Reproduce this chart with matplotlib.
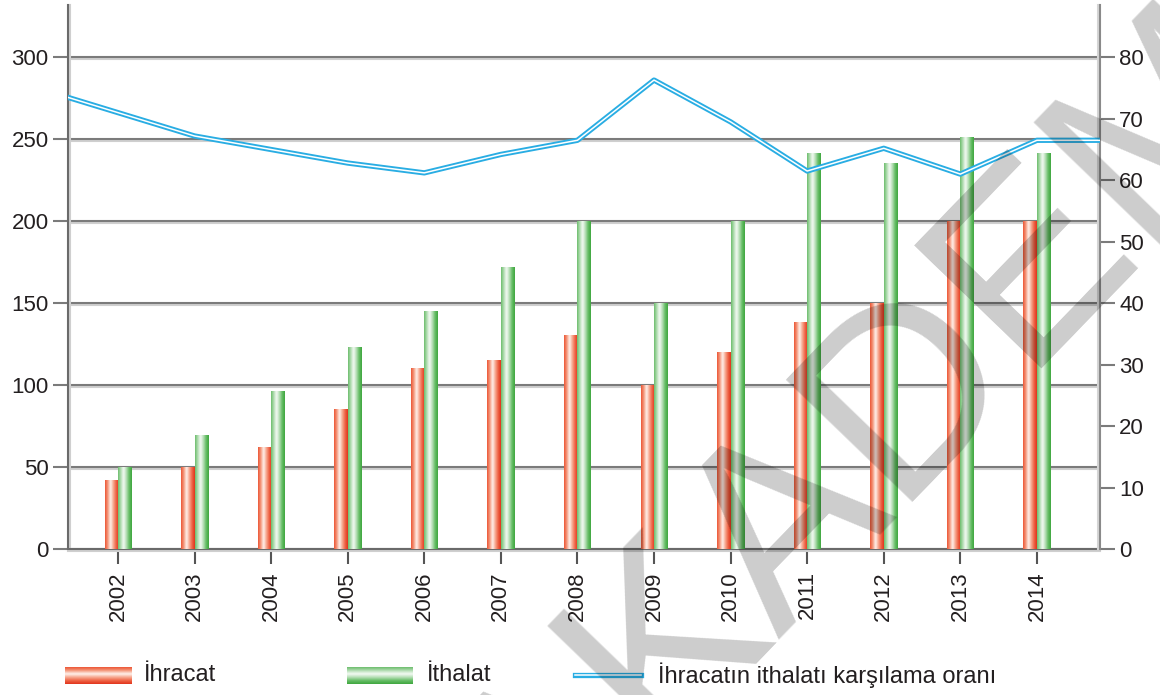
import matplotlib
matplotlib.use("Agg")
import matplotlib.pyplot as plt
import matplotlib.patheffects as pe
import numpy as np
from matplotlib.colors import LinearSegmentedColormap

plt.rcParams['font.family'] = ['Liberation Sans', 'DejaVu Sans']

# data
years = ['2002', '2003', '2004', '2005', '2006', '2007', '2008',
         '2009', '2010', '2011', '2012', '2013', '2014']
ihracat = [42, 50, 62, 85, 110, 115, 130, 100, 120, 138, 150, 200, 200]
ithalat = [50, 69, 96, 123, 145, 172, 200, 150, 200, 241, 235, 251, 241]
oran = [71, 67.2, 65, 62.8, 61.2, 64.2, 66.5, 76.3, 69.5, 61.5, 65.2, 61, 66.5]

labels = ['İhracat', 'İthalat', 'İhracatın ithalatı karşılama oranı']

red_cmap = LinearSegmentedColormap.from_list(
    'red', ['#ec5434', '#f49a7e', '#fff3ee', '#f7a890', '#ef6446', '#e0341c'])
green_cmap = LinearSegmentedColormap.from_list(
    'green', ['#6bbd6b', '#b3ddb3', '#f5fbf5', '#b6dfb6', '#66bd66', '#3ea63e'])
blue = '#29ade3'
grid_c = '#7b7b7b'
text_c = '#231f20'

fig = plt.figure(figsize=(11.6, 6.95), dpi=100)
ax = fig.add_axes([0.0586, 0.21, 0.8894, 0.783])
ax2 = ax.twinx()

x = np.arange(len(years))
bw = 0.176
grad = np.linspace(0, 1, 64).reshape(1, -1)
for xi, r, g in zip(x, ihracat, ithalat):
    ax.imshow(grad, extent=[xi - bw, xi, 0, r], cmap=red_cmap, aspect='auto',
              interpolation='bicubic', zorder=3)
    ax.imshow(grad, extent=[xi, xi + bw, 0, g], cmap=green_cmap, aspect='auto',
              interpolation='bicubic', zorder=3)

xlim = (-0.653, 12.82)
ax.set_xlim(xlim)
ax.set_ylim(0, 332)
ax.set_yticks(range(0, 301, 50))
ax.set_xticks(x)
ax.set_xticklabels(years, rotation=90)

shadow_h = [pe.SimpleLineShadow(offset=(0, -1.2), shadow_color='#cfcfcf', alpha=1), pe.Normal()]
ax.grid(axis='y', color=grid_c, lw=1.5, zorder=1)
for gl in ax.get_ygridlines():
    gl.set_path_effects(shadow_h)

ax.tick_params(axis='y', direction='out', length=11, width=1.5, color=grid_c,
               labelsize=16, labelcolor=text_c, pad=3)
ax.tick_params(axis='x', direction='out', length=11, width=1.5, color='#555555',
               labelsize=16, labelcolor=text_c, pad=5)

for s in ['top', 'right']:
    ax.spines[s].set_visible(False)
ax.spines['left'].set_color('#6a6a6a')
ax.spines['left'].set_linewidth(1.5)
ax.spines['left'].set_path_effects(
    [pe.SimpleLineShadow(offset=(1.2, 0), shadow_color='#cfcfcf', alpha=1), pe.Normal()])
ax.spines['bottom'].set_color('#6a6a6a')
ax.spines['bottom'].set_linewidth(1.5)
ax.spines['bottom'].set_path_effects(shadow_h)

# ratio line on the right axis, stretched to both edges
left_val = oran[0] - (oran[1] - oran[0]) * (x[0] - xlim[0])
lx = np.concatenate([[xlim[0]], x, [xlim[1]]])
ly = np.concatenate([[left_val], oran, [oran[-1]]])
ax2.plot(lx, ly, color=blue, lw=3.8, solid_joinstyle='round', zorder=5)
ax2.plot(lx, ly, color='white', lw=1.1, solid_joinstyle='round', zorder=6)
ax2.set_ylim(0, 332 * 80 / 300)
ax2.set_xlim(xlim)
ax2.set_yticks(range(0, 81, 10))
ax2.tick_params(axis='y', direction='out', length=11, width=1.5, color=grid_c,
                labelsize=16, labelcolor=text_c, pad=3)
for s in ['top', 'left', 'bottom']:
    ax2.spines[s].set_visible(False)
ax2.spines['right'].set_color('#8a8a8a')
ax2.spines['right'].set_linewidth(1.5)
ax2.spines['right'].set_path_effects(
    [pe.SimpleLineShadow(offset=(-1.2, 0), shadow_color='#d5d5d5', alpha=1), pe.Normal()])

# legend strip along the bottom, in pixel units
lg = fig.add_axes([0, 0, 1, 0.08])
lg.axis('off')
vgrad = np.linspace(0, 1, 64).reshape(-1, 1)
lg.imshow(vgrad, extent=[65, 132, 11, 28], cmap=red_cmap, aspect='auto', interpolation='bicubic')
lg.imshow(vgrad, extent=[347, 413, 11, 28], cmap=green_cmap, aspect='auto', interpolation='bicubic')
lg.plot([575, 641], [20, 20], color=blue, lw=3.8)
lg.plot([575, 641], [20, 20], color='white', lw=1.1)
lg.set_xlim(0, 1160)
lg.set_ylim(0, 55.6)
leg_font = ['Liberation Sans Narrow', 'Liberation Sans', 'DejaVu Sans']
for tx, t in zip([144, 427, 658], labels):
    lg.text(tx, 20, t, ha='left', va='center', fontsize=17, color=text_c, family=leg_font)

# watermark
fig.text(0.772, 0.39, 'AKADEMİ', fontsize=185, color='black', alpha=0.2,
         rotation=46, ha='center', va='center', rotation_mode='anchor', zorder=20)

fig.savefig('out.png', dpi=100)
